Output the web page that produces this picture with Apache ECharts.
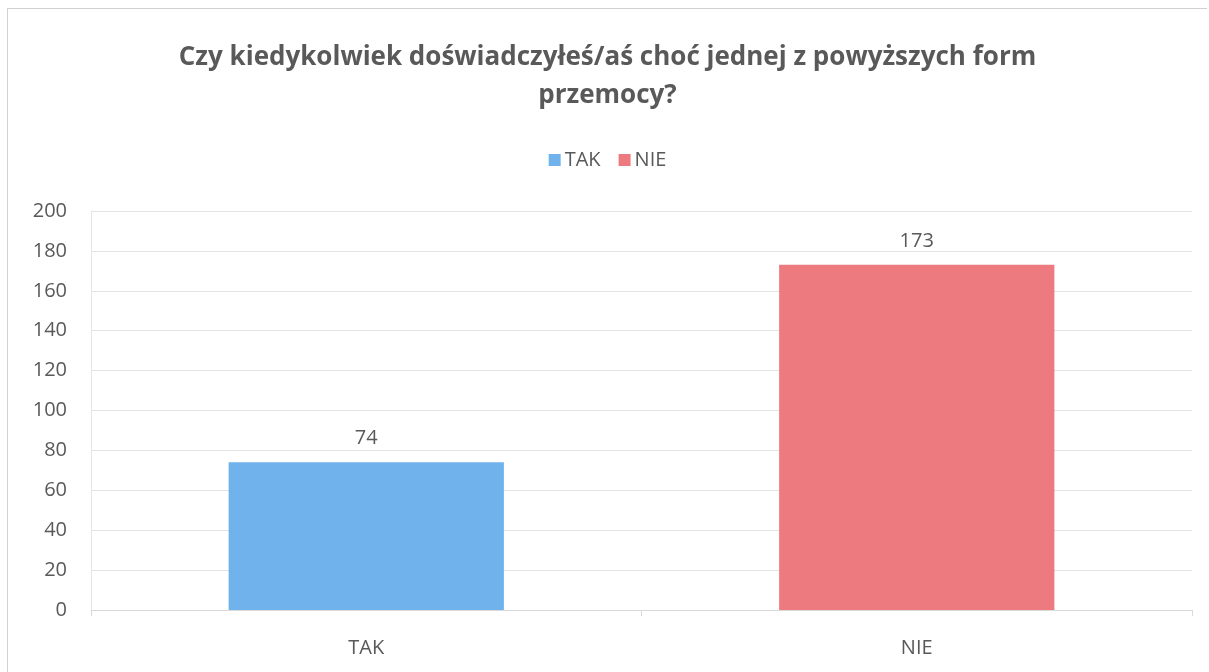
<!DOCTYPE html>
<html>
<head>
<meta charset="utf-8">
<script src="https://cdn.jsdelivr.net/npm/echarts@6/dist/echarts.min.js"></script>
<style>
  html, body { margin: 0; padding: 0; background: #fff; }
  #chart {
    position: absolute; left: 7px; top: 8px;
    width: 1200px; height: 664px;
    border: 1px solid #d0d0d0; border-right: none; border-bottom: none;
    box-sizing: border-box;
  }
</style>
</head>
<body>
<div id="chart"></div>
<script>
// data
const categories = ['TAK', 'NIE'];
const seriesNames = ['TAK', 'NIE'];
const tak = [74, '-'];
const nie = ['-', 173];
const yTicks = { min: 0, max: 200, interval: 20 };

const chart = echarts.init(document.getElementById('chart'));
const font = '"Open Sans", "Noto Sans", sans-serif';
const txt = '#595959';
const labelSize = 20;

chart.setOption({
  animation: false,
  textStyle: { fontFamily: font },
  title: {
    text: 'Czy kiedykolwiek doświadczyłeś/aś choć jednej z powyższych form\nprzemocy?',
    left: 'center',
    top: 25,
    textStyle: { fontFamily: font, fontSize: 26, fontWeight: 'bold', color: txt, lineHeight: 38 }
  },
  legend: {
    data: seriesNames,
    top: 136,
    left: 'center',
    itemWidth: 12,
    itemHeight: 12,
    itemGap: 18,
    icon: 'rect',
    textStyle: { fontFamily: font, fontSize: labelSize, color: txt, padding: [0, 0, 0, -1] }
  },
  grid: { left: 83, right: 15, top: 202, bottom: 62, containLabel: false },
  xAxis: {
    type: 'category',
    data: categories,
    axisLine: { lineStyle: { color: '#d9d9d9' } },
    axisTick: { show: true, length: 6, lineStyle: { color: '#d9d9d9' } },
    axisLabel: { fontFamily: font, fontSize: labelSize, color: txt, margin: 28 }
  },
  yAxis: {
    type: 'value',
    min: yTicks.min,
    max: yTicks.max,
    interval: yTicks.interval,
    axisLine: { show: true, lineStyle: { color: '#e6e6e6' } },
    axisTick: { show: false },
    axisLabel: { fontFamily: font, fontSize: labelSize, color: txt, margin: 24 },
    splitLine: { lineStyle: { color: '#e3e3e3' } }
  },
  series: [
    {
      name: seriesNames[0], type: 'bar', stack: 'all', barWidth: '50%',
      data: tak,
      itemStyle: { color: '#6fb2ec' },
      label: { show: true, position: 'top', distance: 14, fontFamily: font, fontSize: labelSize, color: txt }
    },
    {
      name: seriesNames[1], type: 'bar', stack: 'all', barWidth: '50%',
      data: nie,
      itemStyle: { color: '#ec7a7e' },
      label: { show: true, position: 'top', distance: 14, fontFamily: font, fontSize: labelSize, color: txt }
    }
  ]
});
</script>
</body>
</html>
